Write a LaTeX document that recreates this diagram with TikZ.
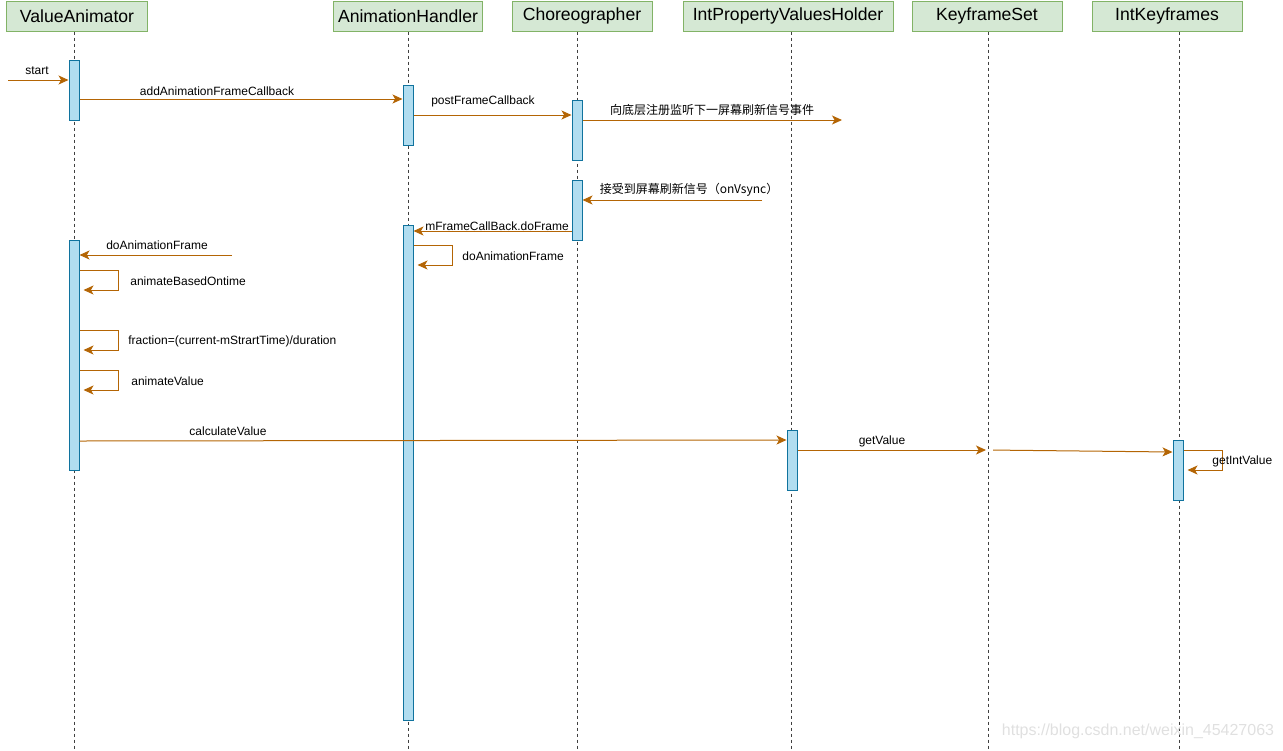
\documentclass[tikz,border=0pt]{standalone}
\usepackage{fontspec}
\setmainfont{Liberation Sans}
\newfontfamily\cjk{Noto Sans CJK SC}
\usetikzlibrary{arrows.meta}
\definecolor{headfill}{HTML}{D5E8D4}
\definecolor{headdraw}{HTML}{82B366}
\definecolor{barfill}{HTML}{B1DDF0}
\definecolor{bardraw}{HTML}{10739E}
\definecolor{msgcol}{HTML}{B46504}
\begin{document}
\begin{tikzpicture}[x=0.5pt,y=-0.5pt,font=\fontsize{6pt}{7pt}\selectfont,
  head/.style={draw=headdraw,fill=headfill,line width=0.5pt,inner sep=0pt,minimum height=15pt,font=\fontsize{8.8pt}{10pt}\selectfont},
  life/.style={draw=black!75,line width=0.5pt,dash pattern=on 1.5pt off 1.5pt},
  bar/.style={draw=bardraw,fill=barfill,line width=0.5pt,inner sep=0pt,minimum width=5pt,anchor=north},
  msg/.style={draw=msgcol,line width=0.5pt,-{Stealth[length=5pt,width=4.5pt,inset=1.3pt]}},
  lbl/.style={inner sep=0pt}]
\useasboundingbox (0,0) rectangle (1283,750);
\foreach \n/\t/\c/\w/\l in {va/ValueAnimator/77/141/74,ah/AnimationHandler/408/149/408,ch/Choreographer/582/140/577,
    ipvh/IntPropertyValuesHolder/788/210/791,ks/KeyframeSet/987/150/988,ik/IntKeyframes/1167/150/1179} {
  \node[head,minimum width=\w*0.5pt] (\n) at (\c,16) {\t};
  \draw[life] (\n.south -| \l,0) -- (\l,750);
}
\foreach \n/\x/\a/\b in {va1/74/60/120,ah1/408/85/145,ch1/577/100/160,ch2/577/180/240,
    ah2/408/225/720,va2/74/240/470,ipvh1/792/430/490,ik1/1178/440/500} {
  \node[bar,minimum height=(\b-\a)*0.5pt] (\n) at (\x,\a) {};
}

\coordinate (st) at (8,80);
\coordinate (reg) at (842,120);
\coordinate (vs) at (762,200);
\coordinate (daf) at (232,255);
\coordinate (ksl) at (988,450);

\draw[msg] (st) -- (va1.west |- st);
\draw[msg] (va1.east |- 0,99) -- (ah1.west |- 0,99);
\draw[msg] (ah1.east |- 0,115) -- (ch1.west |- 0,115);
\draw[msg] (ch1.east |- 0,120) -- (reg);
\draw[msg] (vs) -- (ch2.east |- vs);
\draw[msg] (ch2.west |- 0,231) -- (ah2.east |- 0,231);
\draw[msg] (daf) -- (va2.east |- daf);
\draw[msg,shorten >=2pt] (ah2.east |- 0,245) -| (452,265) -- (ah2.east |- 0,265);
\draw[msg,shorten >=2pt] (va2.east |- 0,270) -| (118,290) -- (va2.east |- 0,290);
\draw[msg,shorten >=2pt] (va2.east |- 0,330) -| (118,350) -- (va2.east |- 0,350);
\draw[msg,shorten >=2pt] (va2.east |- 0,370) -| (118,390) -- (va2.east |- 0,390);
\draw[msg] (va2.east |- 0,441) -- (ipvh1.west |- 0,440);
\draw[msg,shorten >=1pt] (ipvh1.east |- 0,450) -- (ksl);
\draw[msg,shorten <=2.5pt] (ksl) -- (ik1.west |- 0,452);
\draw[msg,shorten >=2pt] (ik1.east |- 0,450) -| (1222,470) -- (ik1.east |- 0,470);

\node[lbl] (l-start) at (37,71) {start};
\node[lbl] (l-add) at (217,91) {addAnimationFrameCallback};
\node[lbl] (l-post) at (483,101) {postFrameCallback};
\node[lbl] (l-reg) at (712,110) {\cjk 向底层注册监听下一屏幕刷新信号事件};
\node[lbl] (l-vs) at (689,190) {\cjk 接受到屏幕刷新信号（onVsync）};
\node[lbl] (l-frame) at (497,226) {mFrameCallBack.doFrame};
\node[lbl] (l-daf1) at (157,245) {doAnimationFrame};
\node[lbl,anchor=west] (l-daf2) at (462,256) {doAnimationFrame};
\node[lbl,anchor=west] (l-abo) at (130,281) {animateBasedOntime};
\node[lbl,anchor=west] (l-frac) at (128,341) {fraction=(current-mStrartTime)/duration};
\node[lbl,anchor=west] (l-av) at (131,381) {animateValue};
\node[lbl] (l-calc) at (228,431) {calculateValue};
\node[lbl] (l-get) at (882,441) {getValue};
\node[lbl,anchor=west] (l-getint) at (1212,461) {getIntValue};
\node[lbl,text=black!12,font=\fontsize{8pt}{9pt}\selectfont] (wm) at (1138,731) {https://blog.csdn.net/weixin\_45427063};
\end{tikzpicture}
\end{document}
